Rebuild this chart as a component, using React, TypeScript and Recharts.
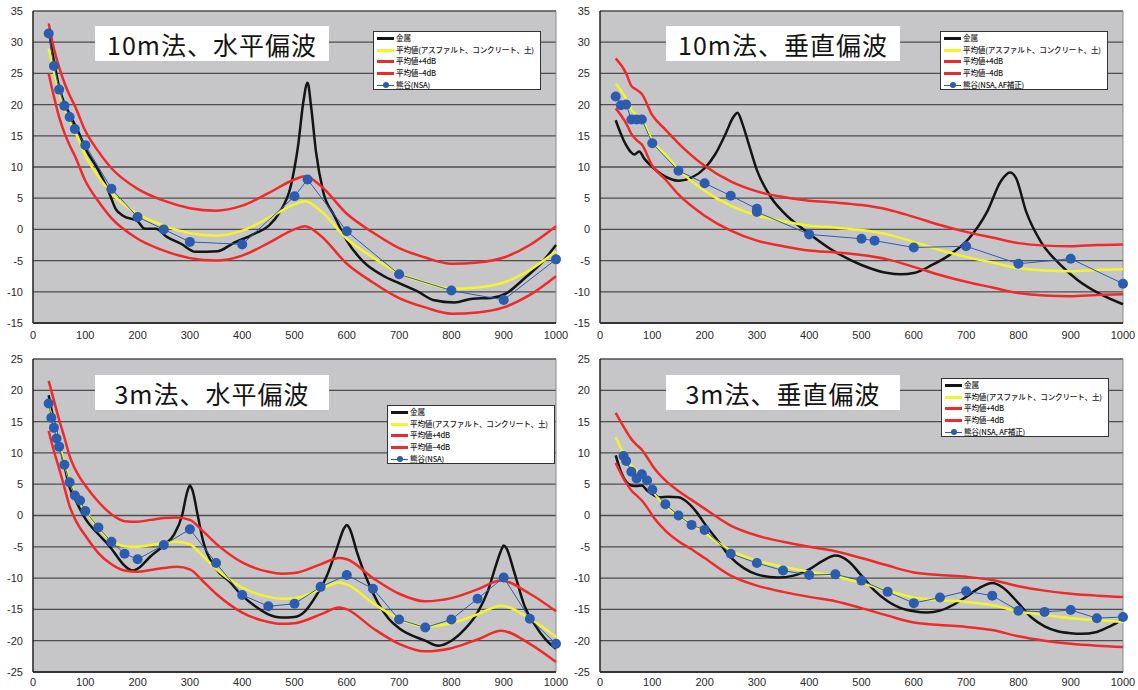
import { CartesianGrid, Line, LineChart, ReferenceLine, XAxis, YAxis } from "recharts";

// ---- shared axes ----
const xTicks = [0, 100, 200, 300, 400, 500, 600, 700, 800, 900, 1000];
const tenTicks = [-15, -10, -5, 0, 5, 10, 15, 20, 25, 30, 35];
const threeTicks = [-25, -20, -15, -10, -5, 0, 5, 10, 15, 20, 25];

const labelMetal = "金属";
const labelAvg = "平均値(アスファルト、コンクリート、土)";
const labelPlus = "平均値+4dB";
const labelMinus = "平均値−4dB";

// ---- 10m法、水平偏波 ----
const tlAvgFreq = [30, 40, 50, 60, 70, 80, 100, 125, 150, 200, 250, 300, 350, 400, 450, 500, 520, 550, 600, 650, 700, 750, 800, 850, 900, 950, 1000];
const tlAvg = [29, 25.3, 22, 19.5, 17.5, 15.8, 11.8, 8.5, 5.8, 2.5, 0.6, -0.6, -1.0, -0.2, 1.8, 4.0, 4.5, 3.0, -1.5, -4.5, -7.0, -8.5, -9.5, -9.3, -8.5, -6.5, -3.5];
const tlPlus = [33, 29, 26, 23.5, 21.5, 19.8, 15.8, 12.5, 9.8, 6.5, 4.6, 3.4, 3.0, 3.8, 5.8, 8.0, 8.5, 7.0, 2.5, -0.5, -3.0, -4.5, -5.5, -5.3, -4.5, -2.5, 0.5];
const tlMinus = [25, 21.3, 18, 15.5, 13.5, 11.8, 7.8, 4.5, 1.8, -1.5, -3.4, -4.6, -5.0, -4.2, -2.2, 0, 0.5, -1.0, -5.5, -8.5, -11.0, -12.5, -13.5, -13.3, -12.5, -10.5, -7.5];
const tlMetalFreq = [30, 40, 50, 60, 70, 80, 90, 100, 125, 144, 158, 172, 200, 214, 235, 256, 283, 311, 353, 381, 423, 451, 472, 493, 507, 517, 525, 532, 541, 555, 576, 600, 632, 667, 702, 737, 765, 806, 841, 876, 904, 939, 974, 1000];
const tlMetal = [32, 27, 22.8, 20.2, 18.5, 16.8, 15, 13, 9.5, 6.2, 3.3, 2.2, 1.3, 0.1, 0.1, -1.2, -2.3, -3.6, -3.5, -2.3, -0.7, 0.6, 2.8, 7.0, 13.5, 20.5, 23.5, 19.5, 12.5, 6.0, 2.2, -1.8, -5.2, -7.3, -8.7, -10, -11.3, -11.7, -11.1, -11, -10.3, -7.9, -5.2, -2.5];
const tlNsaFreq = [30, 40, 50, 60, 70, 80, 100, 150, 200, 250, 300, 400, 500, 525, 600, 700, 800, 900, 1000];
const tlNsa = [31.4, 26.2, 22.4, 19.8, 18.0, 16.1, 13.5, 6.5, 2.0, 0, -2.0, -2.4, 5.3, 8.0, -0.3, -7.2, -9.8, -11.3, -4.8];

// ---- 10m法、垂直偏波 ----
const trAvgFreq = [30, 50, 60, 70, 80, 100, 125, 150, 200, 250, 300, 350, 400, 450, 500, 550, 600, 650, 700, 750, 800, 850, 900, 950, 1000];
const trAvg = [23.4, 20.9, 19.2, 18.4, 17.6, 14.2, 12.0, 9.6, 6.2, 3.8, 2.2, 1.3, 0.6, 0.3, -0.1, -0.8, -2.0, -3.3, -4.4, -5.3, -6.2, -6.6, -6.7, -6.5, -6.4];
const trPlus = [27.4, 25, 23, 22.4, 21.7, 18.3, 16.0, 13.8, 10.2, 7.7, 6.1, 5.2, 4.6, 4.3, 3.9, 3.2, 2.0, 0.7, -0.4, -1.3, -2.2, -2.6, -2.7, -2.5, -2.4];
const trMinus = [19.4, 17, 15.3, 14.3, 13.6, 10.2, 8.0, 5.6, 2.2, -0.2, -1.8, -2.7, -3.4, -3.7, -4.1, -4.8, -6.0, -7.3, -8.4, -9.3, -10.2, -10.6, -10.7, -10.5, -10.4];
const trMetalFreq = [30, 40, 50, 60, 66, 75, 85, 100, 120, 150, 175, 200, 220, 240, 255, 263, 272, 285, 300, 328, 350, 400, 440, 500, 550, 575, 600, 635, 670, 705, 740, 767, 784, 795, 815, 843, 878, 913, 955, 1000];
const trMetal = [17.5, 15.3, 13.5, 12.3, 12.0, 12.5, 11.3, 10, 8.7, 7.8, 8.3, 9.8, 12, 15.3, 18, 18.7, 17, 13.5, 9.5, 5, 2.8, -0.7, -3.1, -5.7, -7.0, -7.2, -7.0, -5.7, -4.0, -1.5, 2.8, 7.8, 9.1, 8.3, 2.8, -2, -5.5, -8.1, -10.3, -12];
const trNsaFreq = [30, 40, 50, 60, 70, 80, 100, 150, 200, 250, 300, 300, 400, 500, 525, 600, 700, 800, 900, 1000];
const trNsa = [21.3, 19.9, 20.0, 17.6, 17.6, 17.6, 13.8, 9.4, 7.4, 5.4, 3.3, 2.8, -0.8, -1.5, -1.8, -2.9, -2.7, -5.5, -4.7, -8.7];

// ---- 3m法、水平偏波 ----
const blAvgFreq = [30, 40, 50, 60, 70, 80, 90, 100, 125, 150, 175, 200, 225, 250, 275, 300, 325, 350, 400, 450, 475, 500, 550, 585, 600, 650, 700, 750, 800, 850, 895, 950, 1000];
const blAvg = [17.6, 14.4, 11.4, 8.5, 5.5, 3.5, 2.0, 0.8, -2.0, -4.0, -4.9, -5.0, -4.7, -4.4, -4.2, -4.6, -6.5, -8.5, -11.5, -13.0, -13.3, -13.2, -11.8, -10.7, -11.0, -14.0, -16.5, -17.7, -17.2, -15.8, -14.4, -16.5, -19.4];
const blPlus = [21.5, 18.4, 15.3, 12.5, 9.5, 7.5, 6.0, 4.8, 2.2, 0.2, -0.9, -1.0, -0.7, -0.4, -0.3, -0.7, -2.5, -4.5, -7.5, -9.0, -9.3, -9.2, -7.8, -6.8, -7.0, -10.0, -12.5, -13.7, -13.2, -11.8, -10.4, -12.5, -15.3];
const blMinus = [13.5, 10.3, 7.5, 4.5, 1.5, -0.5, -2.0, -3.2, -6.0, -7.8, -8.8, -9.0, -8.7, -8.4, -8.2, -8.6, -10.5, -12.5, -15.5, -17.0, -17.3, -17.2, -15.8, -14.7, -15.0, -18.0, -20.5, -21.7, -21.2, -19.8, -18.4, -20.5, -23.4];
const blMetalFreq = [30, 40, 50, 60, 70, 80, 100, 125, 140, 150, 175, 190, 200, 225, 250, 270, 285, 295, 300, 305, 315, 325, 350, 375, 400, 425, 450, 475, 500, 520, 540, 560, 580, 595, 600, 605, 620, 640, 660, 680, 700, 750, 775, 800, 825, 850, 870, 885, 897, 900, 905, 920, 940, 960, 980, 1000];
const blMetal = [19.2, 15, 11.5, 8, 4.5, 2.7, -0.5, -3, -4.3, -5.3, -8, -8.8, -8.5, -6.5, -4.8, -3, 0, 3.8, 4.8, 4.0, 0, -4, -8.5, -10.5, -12.8, -14.5, -15.8, -16.3, -16.2, -15.3, -13, -10, -5.5, -2.0, -1.5, -2.0, -6, -10.5, -14, -16.5, -18.0, -20.0, -20.8, -20.0, -18.2, -15.5, -12, -8, -5.2, -4.8, -5.2, -9.0, -14.5, -17.5, -19.8, -21.3];
const blNsaFreq = [30, 35, 40, 45, 50, 60, 70, 80, 90, 100, 125, 150, 175, 200, 250, 300, 350, 400, 450, 500, 550, 600, 650, 700, 750, 800, 850, 900, 950, 1000];
const blNsa = [17.9, 15.6, 14.0, 12.3, 11.0, 8.1, 5.3, 3.2, 2.4, 0.7, -1.9, -4.2, -6.1, -7.0, -4.7, -2.2, -7.6, -12.7, -14.5, -14.1, -11.4, -9.5, -11.7, -16.6, -17.9, -16.6, -13.3, -9.9, -16.5, -20.5];

// ---- 3m法、垂直偏波 ----
const brAvgFreq = [30, 50, 60, 70, 80, 90, 100, 125, 150, 175, 200, 250, 300, 350, 400, 450, 500, 550, 600, 650, 700, 750, 800, 850, 900, 950, 1000];
const brAvg = [12.5, 9.2, 8.0, 7.2, 6.4, 5.3, 4.0, 1.6, -0.1, -1.3, -2.8, -5.6, -7.2, -8.2, -9.0, -9.7, -10.8, -12.0, -13.1, -13.5, -13.8, -14.3, -15.3, -15.9, -16.4, -16.7, -17.0];
const brPlus = [16.4, 13.5, 12.2, 11.3, 10.5, 9.3, 8.0, 5.6, 3.9, 2.5, 1.1, -1.6, -3.2, -4.2, -5.0, -5.7, -6.8, -8.0, -9.1, -9.5, -9.8, -10.3, -11.3, -12.0, -12.5, -12.8, -13.0];
const brMinus = [8.4, 5.2, 4.0, 3.2, 2.4, 1.3, 0, -2.4, -4.1, -5.4, -6.8, -9.6, -11.2, -12.2, -13.0, -13.7, -14.8, -16.0, -17.1, -17.5, -17.8, -18.3, -19.3, -20.0, -20.5, -20.8, -21.0];
const brMetalFreq = [30, 40, 50, 60, 70, 80, 90, 100, 115, 130, 150, 170, 185, 200, 225, 250, 275, 300, 340, 370, 400, 425, 450, 475, 500, 525, 550, 575, 600, 625, 650, 675, 700, 725, 750, 770, 800, 825, 850, 875, 900, 920, 950, 975, 1000];
const brMetal = [9.6, 7.0, 5.4, 4.8, 4.7, 4.8, 4.0, 3.4, 2.9, 3.0, 2.9, 1.9, 0.5, -1.3, -4.0, -6.7, -8.4, -9.4, -9.9, -9.6, -8.6, -7.3, -6.4, -7.3, -9.6, -12.0, -13.7, -14.8, -15.3, -15.5, -15.2, -14.3, -13.0, -11.6, -10.8, -11.5, -14.0, -16.3, -17.7, -18.5, -18.8, -18.9, -18.6, -17.7, -16.6];
const brNsaFreq = [45, 50, 60, 70, 80, 90, 100, 125, 150, 175, 200, 250, 300, 350, 400, 450, 500, 550, 600, 650, 700, 750, 800, 850, 900, 950, 1000];
const brNsa = [9.5, 8.7, 7.0, 5.9, 6.6, 5.6, 4.1, 1.8, 0, -1.5, -2.3, -6.1, -7.6, -8.8, -9.5, -9.4, -10.4, -12.2, -14.0, -13.1, -12.1, -12.8, -15.2, -15.4, -15.1, -16.4, -16.2];

const pts = (xs: number[], ys: number[]) => xs.map((x, i) => ({ x, y: ys[i] }));

const BLACK = "#141414";
const YELLOW = "#f4f42a";
const RED = "#f02a2a";
const BLUE = "#2c5cb0";

const tickStyle = { fontSize: 11, fill: "#2a2a2a", fontFamily: "Liberation Sans, Arial, sans-serif" };

const LegendBox = (props: any) => {
  const { left, top, nsaLabel } = props;
  const rows = [
    { label: labelMetal, color: BLACK },
    { label: labelAvg, color: YELLOW },
    { label: labelPlus, color: RED },
    { label: labelMinus, color: RED },
  ];
  return (
    <div
      style={{
        position: "absolute",
        left,
        top,
        width: 168,
        height: 59,
        background: "#fff",
        border: "1px solid #333",
        boxSizing: "border-box",
        fontFamily: "'Noto Sans CJK JP', sans-serif",
        fontSize: 7.6,
        letterSpacing: -0.2,
        fontWeight: 500,
        color: "#1a1a1a",
      }}
    >
      {rows.map((r, i) => (
        <div key={i} style={{ position: "absolute", left: 0, top: i * 11.7, height: 12, width: "100%" }}>
          <div style={{ position: "absolute", left: 3, top: 5, width: 17, height: 3, background: r.color }} />
          <div style={{ position: "absolute", left: 22, top: 0, lineHeight: "12px", whiteSpace: "nowrap" }}>{r.label}</div>
        </div>
      ))}
      <div style={{ position: "absolute", left: 0, top: 4 * 11.7, height: 12, width: "100%" }}>
        <div style={{ position: "absolute", left: 3, top: 6, width: 17, height: 1, background: BLUE }} />
        <div style={{ position: "absolute", left: 8.5, top: 3.5, width: 6, height: 6, borderRadius: 3, background: BLUE }} />
        <div style={{ position: "absolute", left: 22, top: 0, lineHeight: "12px", whiteSpace: "nowrap" }}>{nsaLabel}</div>
      </div>
    </div>
  );
};

const Panel = (props: any) => {
  const { left, top, height, marginTop, marginBottom, yTicks, title, titleLeft, titleTop, legendLeft, legendTop, nsaLabel, avg, plus, minus, metal, nsa } = props;
  return (
    <div style={{ position: "absolute", left, top, width: 569, height }}>
      <LineChart width={569} height={height} margin={{ top: marginTop, right: 13, left: 5, bottom: marginBottom }}>
        <CartesianGrid horizontal vertical={false} fill="#c6c6c8" stroke="#4e4e4e" strokeWidth={1.3} fillOpacity={1} />
        <XAxis
          type="number"
          dataKey="x"
          domain={[0, 1000]}
          ticks={xTicks}
          interval={0}
          tickLine={false}
          tickSize={0}
          tickMargin={marginBottom > 3 ? 8 : 6}
          height={16}
          axisLine={{ stroke: "#222", strokeWidth: 1.5 }}
          tick={tickStyle}
        />
        <YAxis
          type="number"
          dataKey="y"
          domain={[yTicks[0], yTicks[yTicks.length - 1]]}
          ticks={yTicks}
          interval={0}
          width={28}
          tickLine={false}
          tickSize={0}
          tickMargin={10}
          axisLine={{ stroke: "#222", strokeWidth: 1.5 }}
          tick={tickStyle}
        />
        <ReferenceLine x={1000} stroke="#8a8a8a" strokeWidth={1} />
        <Line data={metal} dataKey="y" type="monotone" stroke={BLACK} strokeWidth={2.5} dot={false} activeDot={false} isAnimationActive={false} />
        <Line data={avg} dataKey="y" type="monotone" stroke={YELLOW} strokeWidth={2.5} dot={false} activeDot={false} isAnimationActive={false} />
        <Line data={plus} dataKey="y" type="monotone" stroke={RED} strokeWidth={2.5} dot={false} activeDot={false} isAnimationActive={false} />
        <Line data={minus} dataKey="y" type="monotone" stroke={RED} strokeWidth={2.5} dot={false} activeDot={false} isAnimationActive={false} />
        <Line
          data={nsa}
          dataKey="y"
          type="linear"
          stroke={BLUE}
          strokeWidth={1}
          dot={{ r: 5, fill: BLUE, stroke: BLUE, strokeWidth: 0 }}
          activeDot={false}
          isAnimationActive={false}
        />
      </LineChart>
      <div
        style={{
          position: "absolute",
          left: titleLeft,
          top: titleTop,
          width: 234,
          height: 35,
          background: "#fff",
          display: "flex",
          alignItems: "center",
          justifyContent: "center",
          fontFamily: "'Noto Sans CJK JP', sans-serif",
          fontSize: 25,
          letterSpacing: 1,
          color: "#141414",
        }}
      >
        {title}
      </div>
      <LegendBox left={legendLeft} top={legendTop} nsaLabel={nsaLabel} />
    </div>
  );
};

const App = () => {
  return (
    <div style={{ position: "absolute", left: 0, top: 0, width: 1138, height: 690, background: "#fff" }}>
      <Panel
        left={0}
        top={0}
        height={345}
        marginTop={11}
        marginBottom={6}
        yTicks={tenTicks}
        title="10m法、水平偏波"
        titleLeft={95}
        titleTop={26}
        legendLeft={373}
        legendTop={31}
        nsaLabel="熊谷(NSA)"
        avg={pts(tlAvgFreq, tlAvg)}
        plus={pts(tlAvgFreq, tlPlus)}
        minus={pts(tlAvgFreq, tlMinus)}
        metal={pts(tlMetalFreq, tlMetal)}
        nsa={pts(tlNsaFreq, tlNsa)}
      />
      <Panel
        left={567}
        top={0}
        height={345}
        marginTop={11}
        marginBottom={6}
        yTicks={tenTicks}
        title="10m法、垂直偏波"
        titleLeft={99}
        titleTop={26}
        legendLeft={373}
        legendTop={31}
        nsaLabel="熊谷(NSA, AF補正)"
        avg={pts(trAvgFreq, trAvg)}
        plus={pts(trAvgFreq, trPlus)}
        minus={pts(trAvgFreq, trMinus)}
        metal={pts(trMetalFreq, trMetal)}
        nsa={pts(trNsaFreq, trNsa)}
      />
      <Panel
        left={0}
        top={345}
        height={345}
        marginTop={14}
        marginBottom={2}
        yTicks={threeTicks}
        title="3m法、水平偏波"
        titleLeft={95}
        titleTop={30}
        legendLeft={387}
        legendTop={60}
        nsaLabel="熊谷(NSA)"
        avg={pts(blAvgFreq, blAvg)}
        plus={pts(blAvgFreq, blPlus)}
        minus={pts(blAvgFreq, blMinus)}
        metal={pts(blMetalFreq, blMetal)}
        nsa={pts(blNsaFreq, blNsa)}
      />
      <Panel
        left={567}
        top={345}
        height={345}
        marginTop={14}
        marginBottom={2}
        yTicks={threeTicks}
        title="3m法、垂直偏波"
        titleLeft={99}
        titleTop={30}
        legendLeft={374}
        legendTop={33}
        nsaLabel="熊谷(NSA, AF補正)"
        avg={pts(brAvgFreq, brAvg)}
        plus={pts(brAvgFreq, brPlus)}
        minus={pts(brAvgFreq, brMinus)}
        metal={pts(brMetalFreq, brMetal)}
        nsa={pts(brNsaFreq, brNsa)}
      />
    </div>
  );
};

export default App;
